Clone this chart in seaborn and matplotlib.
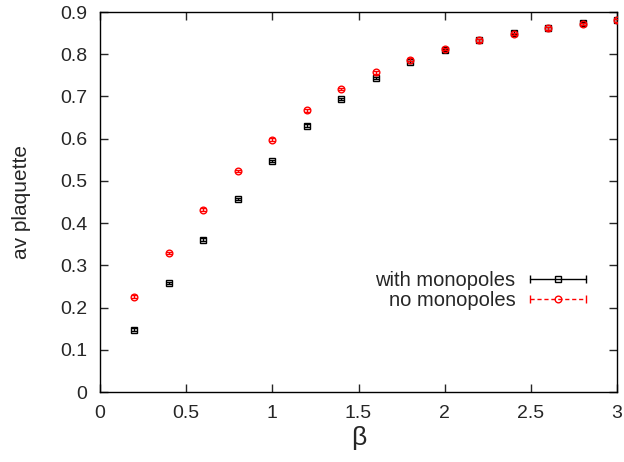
import numpy as np
import pandas as pd
import matplotlib
matplotlib.use("Agg")
import matplotlib.pyplot as plt
import seaborn as sns
from matplotlib.lines import Line2D
from matplotlib.legend_handler import HandlerBase

beta = [0.2, 0.4, 0.6, 0.8, 1.0, 1.2, 1.4, 1.6, 1.8, 2.0, 2.2, 2.4, 2.6, 2.8, 3.0]
with_mono = [0.148, 0.258, 0.361, 0.457, 0.547, 0.631, 0.694, 0.744, 0.782, 0.810, 0.833, 0.851, 0.861, 0.873, 0.880]
with_err = [0.004, 0.003, 0.003, 0.003, 0.003, 0.003, 0.003, 0.003, 0.003, 0.003, 0.003, 0.003, 0.003, 0.003, 0.003]
no_mono = [0.226, 0.329, 0.432, 0.523, 0.598, 0.667, 0.718, 0.757, 0.787, 0.812, 0.833, 0.848, 0.861, 0.872, 0.880]
no_err = [0.003, 0.003, 0.003, 0.003, 0.003, 0.003, 0.003, 0.003, 0.003, 0.003, 0.003, 0.003, 0.003, 0.003, 0.003]
labels = ["with monopoles", "no monopoles"]

sns.set_style("ticks")
plt.rcParams["font.family"] = ["Liberation Sans", "DejaVu Sans"]

fig = plt.figure(figsize=(6.24, 4.62), dpi=100)
ax = fig.add_axes([0.1603, 0.1515, 0.8285, 0.8225])

df = pd.DataFrame({"beta": beta, "with": with_mono, "werr": with_err,
                   "no": no_mono, "nerr": no_err})

ax.errorbar(df["beta"], df["with"], yerr=df["werr"], fmt="s", ms=4.6, mfc="none",
            mec="black", mew=1.0, ecolor="black", elinewidth=1.0, capsize=2.0, color="black", zorder=3)
ax.errorbar(df["beta"], df["no"], yerr=df["nerr"], fmt="o", ms=4.8, mfc="none",
            mec="red", mew=1.0, ecolor="red", elinewidth=1.0, capsize=2.0, color="red", zorder=4)

ax.set_xlim(0, 3)
ax.set_ylim(0, 0.9)
ax.set_xticks([0, 0.5, 1, 1.5, 2, 2.5, 3])
ax.set_xticklabels(["0", "0.5", "1", "1.5", "2", "2.5", "3"])
ax.set_yticks(np.arange(0, 0.91, 0.1))
ax.set_yticklabels(["0", "0.1", "0.2", "0.3", "0.4", "0.5", "0.6", "0.7", "0.8", "0.9"])
ax.tick_params(direction="in", length=6, width=1, top=True, right=True, labelsize=14, pad=9)
for s in ax.spines.values():
    s.set_linewidth(1.0)
    s.set_color("black")
ax.set_xlabel("β", fontsize=19, labelpad=3)
ax.set_ylabel("av plaquette", fontsize=15)
ax.yaxis.set_label_coords(-0.133, 0.5)


class CapLine(HandlerBase):
    def __init__(self, color, ls, marker):
        super().__init__()
        self.color, self.ls, self.marker = color, ls, marker

    def create_artists(self, legend, orig_handle, xdescent, ydescent, width, height, fontsize, trans):
        y = height / 2 - ydescent
        x0, x1 = -xdescent, width - xdescent
        ln = Line2D([x0, x1], [y, y], color=self.color, ls=self.ls, lw=1.0)
        caps = Line2D([x0, x1], [y, y], ls="none", marker="|", ms=6, mew=1.0, color=self.color)
        mk = Line2D([(x0 + x1) / 2], [y], ls="none", marker=self.marker, ms=4.8,
                    mfc="none", mec=self.color, mew=1.0)
        for a in (ln, caps, mk):
            a.set_transform(trans)
        return [ln, caps, mk]


h1 = Line2D([], [], color="black")
h2 = Line2D([], [], color="red")
leg = ax.legend([h1, h2], labels, loc="lower right", bbox_to_anchor=(0.975, 0.168),
                frameon=False, markerfirst=False, fontsize=14.5, handlelength=2.8,
                handletextpad=0.7, labelspacing=0.05,
                handler_map={h1: CapLine("black", "-", "s"), h2: CapLine("red", (0, (3, 2)), "o")})
for t in leg.get_texts():
    t.set_ha("right")

fig.savefig("out.png", dpi=100)
